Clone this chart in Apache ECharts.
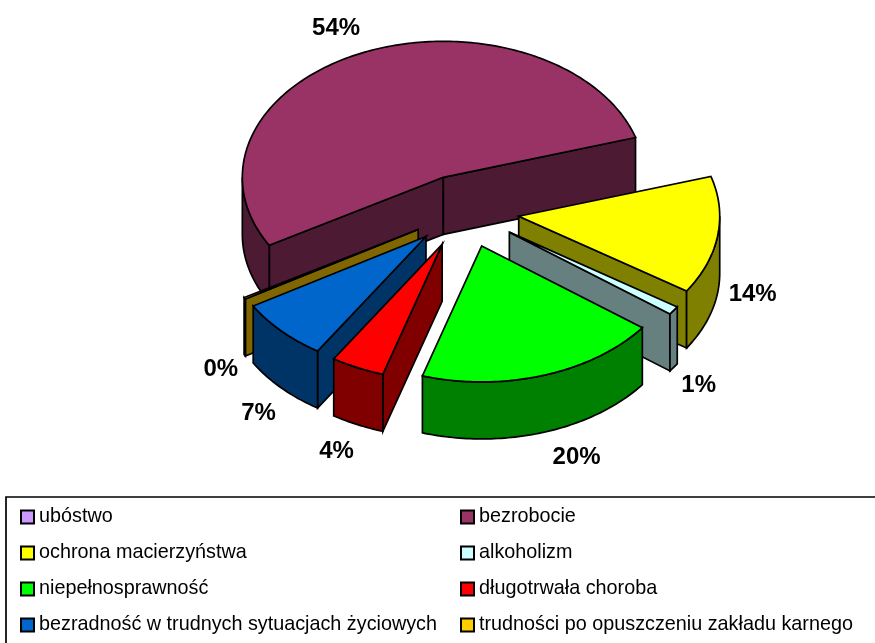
<!DOCTYPE html>
<html>
<head>
<meta charset="utf-8">
<title>Wykres</title>
<script src="https://cdn.jsdelivr.net/npm/echarts@6/dist/echarts.min.js"></script>
<style>
  html, body { margin: 0; padding: 0; background: #fff; }
  #chart { width: 875px; height: 643px; }
</style>
</head>
<body>
<div id="chart"></div>
<script>
// data (percent, clockwise)
var categories = ["ubóstwo", "bezrobocie", "ochrona macierzyństwa", "alkoholizm", "niepełnosprawność", "długotrwała choroba", "bezradność w trudnych sytuacjach życiowych", "trudności po opuszczeniu zakładu karnego"];
var values = [0, 53.6, 14, 1, 19.5, 4.3, 7.4, 0.2];
var colors = ["#CC99FF", "#993366", "#FFFF00", "#CCFFFF", "#00FF00", "#FF0000", "#0066CC", "#FFCC00"];

// pie geometry (the library has no 3d pie without echarts-gl)
var cx = 465, cy = 211, rx = 201, ry = 136, depth = 57, explode = 0.27, startAngle = 240;
var fontName = '"Liberation Sans", Arial, sans-serif';

// label shift from the rim point of each slice
var labelShift = [null, [-27, -24], [35, 59], [25, 75], [33, 82], [-21, 84], [-23, 82], [-24, 71]];

var total = values.reduce(function (a, b) { return a + b; }, 0);
var slices = [];
var angle = startAngle;
values.forEach(function (v, i) {
    var a0 = angle;
    var a1 = angle + v / total * 360;
    var mid = (a0 + a1) / 2 * Math.PI / 180;
    slices.push({
        a0: a0,
        a1: a1,
        mid: mid,
        ax: cx + Math.sin(mid) * explode * rx,
        ay: cy - Math.cos(mid) * explode * ry
    });
    angle = a1;
    if (angle >= 360 && v > 0 && a0 >= 360) {
        slices[i].a0 -= 360;
        slices[i].a1 -= 360;
    }
});

function darken(hex) {
    var n = parseInt(hex.slice(1), 16);
    var r = Math.round((n >> 16 & 255) / 2), g = Math.round((n >> 8 & 255) / 2), b = Math.round((n & 255) / 2);
    return "rgb(" + r + "," + g + "," + b + ")";
}

function rimPoint(s, deg) {
    var t = deg * Math.PI / 180;
    return [s.ax + Math.sin(t) * rx, s.ay - Math.cos(t) * ry];
}

function arcPoints(s, from, to) {
    var pts = [];
    var n = Math.max(2, Math.ceil(Math.abs(to - from)));
    for (var k = 0; k <= n; k++) {
        pts.push(rimPoint(s, from + (to - from) * k / n));
    }
    return pts;
}

function poly(points, fill) {
    return {
        type: "polygon",
        shape: {points: points},
        style: {fill: fill, stroke: "#000", lineWidth: 1.7, lineJoin: "miter"}
    };
}

function down(p) {
    return [p[0], p[1] + depth];
}

function radialFace(s, deg, fill) {
    var p = rimPoint(s, deg);
    var a = [s.ax, s.ay];
    return poly([a, p, down(p), down(a)], fill);
}

function makeRender(i) {
    return function (params, api) {
        var v = api.value(0);
        var s = slices[i];
        var children = [];
        if (v > 0) {
            var side = darken(colors[i]);
            // radial faces that look at the viewer
            [s.a0, s.a1].forEach(function (deg, k) {
                var sn = Math.sin(deg * Math.PI / 180);
                if ((k === 0 && sn < 0) || (k === 1 && sn > 0)) {
                    children.push(radialFace(s, deg, side));
                }
            });
            // outer wall, front half only
            var from = Math.max(s.a0, 90);
            var to = Math.min(s.a1, 270);
            if (to > from) {
                var arc = arcPoints(s, from, to);
                children.push(poly(arc.concat(arc.slice().reverse().map(function (p) { return down(p); })), side));
            }
            // top
            children.push(poly([[s.ax, s.ay]].concat(arcPoints(s, s.a0, s.a1)), colors[i]));
            // label
            var rim = rimPoint(s, s.mid * 180 / Math.PI);
            children.push({
                type: "text",
                style: {
                    text: Math.round(v) + "%",
                    x: rim[0] + labelShift[i][0],
                    y: rim[1] + labelShift[i][1],
                    fill: "#000",
                    font: "bold 24px " + fontName,
                    textAlign: "center",
                    textVerticalAlign: "middle"
                }
            });
        }
        return {type: "group", children: children};
    };
}

// back to front
var drawOrder = categories.map(function (c, i) { return i; }).sort(function (a, b) {
    return slices[a].ay - slices[b].ay;
});

var series = drawOrder.map(function (i) {
    return {
        type: "custom",
        name: categories[i],
        coordinateSystem: "none",
        silent: true,
        itemStyle: {color: colors[i]},
        data: [[values[i]]],
        renderItem: makeRender(i)
    };
});

function legendColumn(left, names) {
    return {
        left: left,
        top: 506,
        orient: "vertical",
        padding: 0,
        itemWidth: 13,
        itemHeight: 13,
        itemGap: 14,
        icon: "rect",
        selectedMode: false,
        itemStyle: {borderColor: "#000", borderWidth: 2},
        textStyle: {
            fontFamily: fontName,
            fontSize: 19.8,
            lineHeight: 20,
            padding: [2, 0, 0, 0],
            color: "#000"
        },
        data: names
    };
}

var option = {
    animation: false,
    backgroundColor: "#fff",
    tooltip: {show: false},
    legend: [
        legendColumn(20, categories.filter(function (c, i) { return i % 2 === 0; })),
        legendColumn(460, categories.filter(function (c, i) { return i % 2 === 1; }))
    ],
    graphic: [{
        type: "rect",
        silent: true,
        shape: {x: 6, y: 497, width: 900, height: 180},
        style: {fill: "none", stroke: "#000", lineWidth: 1.7}
    }],
    series: series
};

var chart = echarts.init(document.getElementById("chart"));
chart.setOption(option);
</script>
</body>
</html>
